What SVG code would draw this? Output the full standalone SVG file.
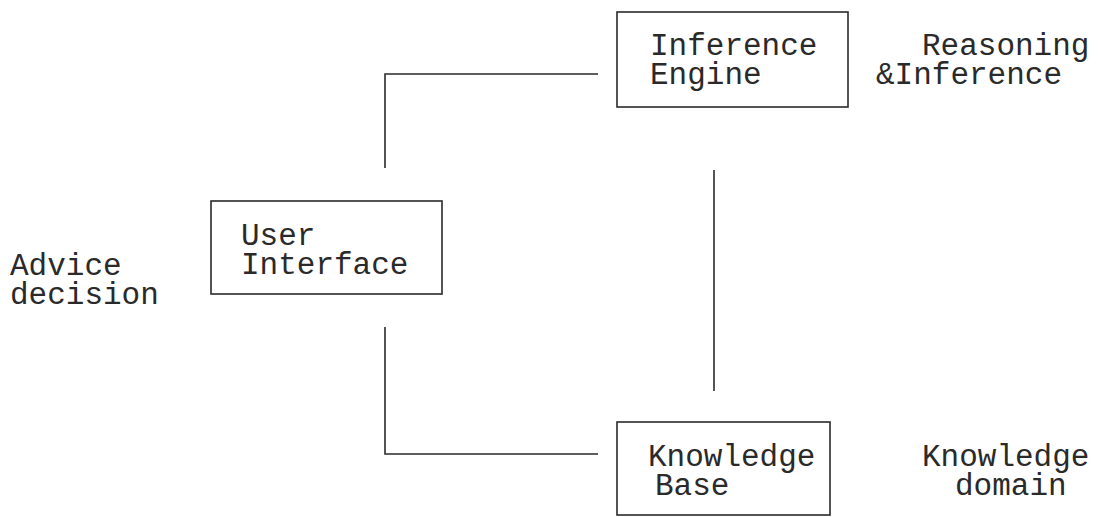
<svg xmlns="http://www.w3.org/2000/svg" width="1105" height="517" viewBox="0 0 1105 517">
  <style>
    .box { fill: none; stroke: #2a2a2a; stroke-width: 1.6; }
    .wire { fill: none; stroke: #2a2a2a; stroke-width: 1.6; }
    text { font-family: "Liberation Mono", "Courier New", monospace; font-size: 31px; fill: #2a2a2a; }
  </style>
  <rect width="1105" height="517" fill="#ffffff"/>

  <!-- connectors -->
  <g id="connectors">
    <polyline class="wire" points="385,168 385,74 598,74"/>
    <line class="wire" x1="714" y1="170" x2="714" y2="391"/>
    <polyline class="wire" points="385,327 385,454 598,454"/>
  </g>

  <!-- inference engine -->
  <g id="inference-engine">
    <rect class="box" x="617" y="12" width="231" height="95"/>
    <text x="650" y="55">Inference</text>
    <text x="650" y="84">Engine</text>
  </g>

  <!-- user interface -->
  <g id="user-interface">
    <rect class="box" x="211" y="201" width="231" height="93"/>
    <text x="241" y="245">User</text>
    <text x="241" y="274">Interface</text>
  </g>

  <!-- knowledge base -->
  <g id="knowledge-base">
    <rect class="box" x="617" y="422" width="213" height="93"/>
    <text x="648" y="466">Knowledge</text>
    <text x="655" y="495">Base</text>
  </g>

  <!-- side annotations -->
  <g id="label-reasoning">
    <text x="922" y="55">Reasoning</text>
    <text x="876" y="84">&amp;Inference</text>
  </g>
  <g id="label-advice">
    <text x="10" y="275">Advice</text>
    <text x="10" y="304">decision</text>
  </g>
  <g id="label-domain">
    <text x="922" y="466">Knowledge</text>
    <text x="955" y="495">domain</text>
  </g>
</svg>
